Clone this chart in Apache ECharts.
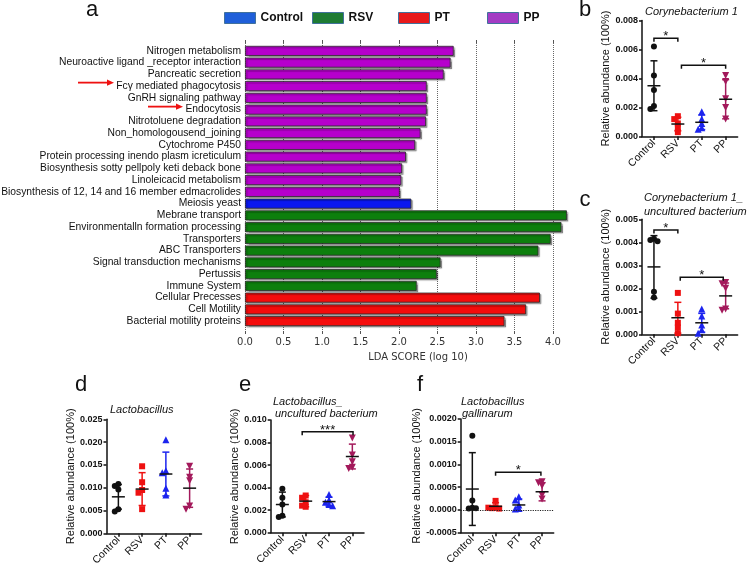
<!DOCTYPE html>
<html>
<head>
<meta charset="utf-8">
<script src="https://cdn.jsdelivr.net/npm/echarts@6/dist/echarts.min.js"></script>
<style>html,body{margin:0;padding:0;background:#fff}#c{width:750px;height:569px}</style>
</head>
<body>
<div id="c"></div>
<script>
// ---------------- DATA ----------------
const groups = ['Control', 'RSV', 'PT', 'PP'];

const ldaPathways = [
  'Nitrogen metabolism',
  'Neuroactive ligand _receptor interaction',
  'Pancreatic secretion',
  'Fcγ mediated phagocytosis',
  'GnRH signaling pathway',
  'Endocytosis',
  'Nitrotoluene degradation',
  'Non_homologousend_joining',
  'Cytochrome P450',
  'Protein processing inendo plasm icreticulum',
  'Biosynthesis sotty pellpoly keti deback bone',
  'Linoleicacid metabolism',
  'Biosynthesis of 12, 14 and 16 member edmacrolides',
  'Meiosis yeast',
  'Mebrane transport',
  'Environmentalln formation processing',
  'Transporters',
  'ABC Transporters',
  'Signal transduction mechanisms',
  'Pertussis',
  'Immune System',
  'Cellular Precesses',
  'Cell Motility',
  'Bacterial motility proteins'
];
const ldaGroups = ['PP','PP','PP','PP','PP','PP','PP','PP','PP','PP','PP','PP','PP',
  'Control','RSV','RSV','RSV','RSV','RSV','RSV','RSV','PT','PT','PT'];
const ldaScores = [2.71, 2.67, 2.58, 2.36, 2.36, 2.36, 2.35, 2.28, 2.21, 2.09, 2.04, 2.03, 2.01,
  2.16, 4.18, 4.11, 3.97, 3.81, 2.54, 2.49, 2.23, 3.83, 3.65, 3.37];

// b: Corynebacterium 1
const bPoints = [
  [0.0062, 0.0042, 0.0032, 0.0021, 0.0019],
  [0.0014, 0.0012, 0.0009, 0.0006, 0.0003],
  [0.0017, 0.0012, 0.0009, 0.0006, 0.0005],
  [0.0042, 0.0038, 0.0026, 0.0020, 0.0012]
];
const bMean = [0.0035, 0.00086, 0.00098, 0.00257];
const bSD = [0.00172, 0.00047, 0.00050, 0.00135];
const bBrackets = [[0, 1, 0.00677, '*'], [1.15, 3, 0.00491, '*']];

// c: Corynebacterium 1_uncultured bacterium
const cPoints = [
  [0.00415, 0.0041, 0.00405, 0.00185, 0.0016],
  [0.0018, 0.0009, 0.0005, 0.0003, 0.00005],
  [0.0011, 0.0008, 0.0004, 0.0002, 0.00005],
  [0.00225, 0.0022, 0.0020, 0.0011, 0.00105]
];
const cMean = [0.00293, 0.00072, 0.0005, 0.00167];
const cSD = [0.00136, 0.00067, 0.00041, 0.00056];
const cBrackets = [[0, 1, 0.00453, '*'], [1.1, 2.9, 0.00248, '*']];

// d: Lactobacillus
const dPoints = [
  [0.0108, 0.0104, 0.0096, 0.0053, 0.0048],
  [0.0147, 0.0112, 0.0095, 0.0089, 0.0053],
  [0.0205, 0.0137, 0.0133, 0.0099, 0.0084],
  [0.0147, 0.0123, 0.0115, 0.0060, 0.0053]
];
const dMean = [0.0080, 0.0097, 0.0130, 0.0099];
const dSD = [0.0027, 0.0036, 0.0048, 0.0042];
const dBrackets = [];

// e: Lactobacillus_uncultured bacterium
const ePoints = [
  [0.0039, 0.0031, 0.0025, 0.0015, 0.0014],
  [0.0033, 0.0031, 0.0027, 0.0024, 0.0023],
  [0.0034, 0.0029, 0.0027, 0.0025, 0.0024],
  [0.0084, 0.0069, 0.0063, 0.0058, 0.0057]
];
const eMean = [0.0025, 0.0028, 0.00276, 0.00676];
const eSD = [0.0011, 0.0005, 0.0004, 0.0011];
const eBrackets = [[0.85, 3.03, 0.00896, '***']];

// f: Lactobacillus gallinarum
const fPoints = [
  [0.00163, 0.00021, 0.00005, 0.00003, 0.00004],
  [0.0002, 0.00006, 0.00004, 0.00003, 0.00005],
  [0.00029, 0.00022, 0.00011, 0.00003, 0.00002],
  [0.00062, 0.0006, 0.00053, 0.00033, 0.00024]
];
const fMean = [0.00046, 0.00008, 0.00011, 0.0004];
const fSD = [0.0008, 0.00008, 0.00013, 0.0002];
const fBrackets = [[1, 2.95, 0.00083, '*']];

// ---------------- STYLE / LAYOUT ----------------
const FONT = '"Liberation Sans", Arial, Helvetica, sans-serif';
const barColors = ['#0a18f0', '#0d7f0d', '#f40c0c', '#b600cc'];
const legendColors = ['#1f5fd9', '#1e7b34', '#e8191b', '#a33cc4'];
const legendLefts = [224, 312, 398, 487];
const groupColors = ['#111111', '#ee1111', '#1c24ee', '#a3195b'];
const groupSymbols = ['circle', 'rect', 'triangle', 'triangle'];
const groupRotate = [0, 0, 0, 180];

const panels = [
  {pts: bPoints, mean: bMean, sd: bSD, br: bBrackets, left: 642, top: 20.5, width: 95.6, height: 116, min: 0, max: 0.008, interval: 0.002, dec: 3, nameGap: 27},
  {pts: cPoints, mean: cMean, sd: cSD, br: cBrackets, left: 642, top: 219.3, width: 95.6, height: 115, min: 0, max: 0.005, interval: 0.001, dec: 3, nameGap: 27},
  {pts: dPoints, mean: dMean, sd: dSD, br: dBrackets, left: 106.5, top: 419.3, width: 95, height: 114, min: 0, max: 0.025, interval: 0.005, dec: 3, nameGap: 26},
  {pts: ePoints, mean: eMean, sd: eSD, br: eBrackets, left: 270.7, top: 420, width: 93.3, height: 112.7, min: 0, max: 0.010, interval: 0.002, dec: 3, nameGap: 26},
  {pts: fPoints, mean: fMean, sd: fSD, br: fBrackets, left: 460.7, top: 419, width: 93, height: 113.7, min: -0.0005, max: 0.0020, interval: 0.0005, dec: 4, nameGap: 35, zeroLine: true}
];

// beeswarm-like horizontal spreading (GraphPad style), in category units
function swarm(vals, pxPerUnit, spacingPx, size) {
  const placed = [];
  const step = size * 0.6;
  return vals.map(v => {
    const cands = [0, -1, 1, -2, 2, -3, 3];
    for (const k of cands) {
      const oPx = k * step;
      const ok = placed.every(p => Math.hypot((p.v - v) * pxPerUnit, p.o - oPx) >= size * 0.6);
      if (ok) { placed.push({v: v, o: oPx}); return oPx / spacingPx; }
    }
    return 0;
  });
}

const grids = [], xAxes = [], yAxes = [], series = [];

// panel a: bars grid
grids.push({left: 245, top: 45, width: 327.25, height: 282, containLabel: false, outerBoundsMode: 'none'});
xAxes.push({gridIndex: 0, type: 'value', min: 0, max: 4.25, show: false, axisLine: {onZero: false}});
yAxes.push({gridIndex: 0, type: 'category', inverse: true, data: ldaPathways,
  axisLine: {show: false, onZero: false}, axisTick: {show: false},
  axisLabel: {interval: 0, fontSize: 10.3, color: '#111', margin: 4, fontFamily: FONT}});
// panel a: gridline / tick grid
grids.push({left: 245, top: 43, width: 308, height: 288, containLabel: false, outerBoundsMode: 'none'});
xAxes.push({gridIndex: 1, type: 'value', position: 'bottom', min: 0, max: 4, interval: 0.5,
  axisLine: {show: false, onZero: false}, axisTick: {show: true, length: 3, lineStyle: {color: '#555'}},
  axisLabel: {formatter: v => v.toFixed(1), fontSize: 10, fontFamily: '"DejaVu Sans", sans-serif', color: '#333', margin: 6},
  splitLine: {show: true, lineStyle: {type: 'dotted', color: '#666', width: 1}}});
xAxes.push({gridIndex: 1, type: 'value', position: 'top', min: 0, max: 4, interval: 0.5,
  axisLine: {show: false, onZero: false}, axisTick: {show: true, length: 3, lineStyle: {color: '#555'}},
  axisLabel: {show: false}, splitLine: {show: false}});
yAxes.push({gridIndex: 1, type: 'value', min: 0, max: 1, show: false, axisLine: {onZero: false}});

groups.forEach((g, gi) => {
  series.push({
    type: 'bar', name: g, xAxisIndex: 0, yAxisIndex: 0, stack: 'lda', barWidth: 10,
    data: ldaScores.map((v, i) => ldaGroups[i] === g ? v : '-'),
    itemStyle: {color: barColors[gi], borderColor: '#2a2a2a', borderWidth: 0.8,
      shadowColor: 'rgba(0,0,0,0.35)', shadowOffsetX: 1.5, shadowOffsetY: 1.5, shadowBlur: 1},
    silent: true
  });
});

panels.forEach((p, pi) => {
  const gi = grids.length;
  grids.push({left: p.left, top: p.top, width: p.width, height: p.height, containLabel: false, outerBoundsMode: 'none'});
  const xc = xAxes.length;
  xAxes.push({gridIndex: gi, type: 'category', data: groups, boundaryGap: true,
    axisLine: {show: true, onZero: false, lineStyle: {color: '#111', width: 1.5}},
    axisTick: {show: true, alignWithLabel: true, length: 3.5, lineStyle: {color: '#111', width: 1.5}},
    axisLabel: {interval: 0, rotate: 45, fontSize: 10.5, color: '#111', margin: 5, fontFamily: FONT},
    splitLine: {show: false}});
  const xv = xAxes.length;
  xAxes.push({gridIndex: gi, type: 'value', min: -0.5, max: 3.5, show: false, axisLine: {onZero: false}});
  const yi = yAxes.length;
  yAxes.push({gridIndex: gi, type: 'value', min: p.min, max: p.max, interval: p.interval,
    name: 'Relative abundance (100%)', nameLocation: 'middle', nameGap: p.nameGap, nameRotate: 90,
    nameTextStyle: {fontSize: 11, color: '#111', fontFamily: FONT},
    axisLine: {show: true, onZero: false, lineStyle: {color: '#111', width: 1.5}},
    axisTick: {show: true, length: 3, lineStyle: {color: '#111', width: 1.5}},
    axisLabel: {formatter: v => v.toFixed(p.dec), fontSize: 9, fontWeight: 'bold', color: '#111', margin: 4, fontFamily: FONT},
    splitLine: {show: false}});

  const pxPerUnit = p.height / (p.max - p.min);
  const spacing = p.width / 4;
  groups.forEach((g, k) => {
    const vals = p.pts[k];
    const offs = swarm(vals, pxPerUnit, spacing, 6);
    const s = {
      type: 'scatter', name: 'p' + pi + '-' + g, xAxisIndex: xv, yAxisIndex: yi,
      data: vals.map((v, j) => [k + offs[j], v]),
      symbol: groupSymbols[k], symbolSize: k >= 2 ? 7 : 6, symbolRotate: groupRotate[k],
      itemStyle: {color: groupColors[k], opacity: 1}, silent: true, z: 3
    };
    if (p.zeroLine && k === 0) {
      s.markLine = {silent: true, symbol: 'none', label: {show: false},
        lineStyle: {type: 'dotted', color: '#222', width: 1.2}, data: [{yAxis: 0}]};
    }
    series.push(s);
  });

  // mean +/- SD
  series.push({
    type: 'custom', xAxisIndex: xv, yAxisIndex: yi, silent: true, z: 4, clip: false,
    data: p.mean.map((m, i) => [i, m, p.sd[i]]),
    renderItem: (params, api) => {
      const i = api.value(0), m = api.value(1), s = api.value(2);
      const c = api.coord([i, m]), t = api.coord([i, m + s]), b = api.coord([i, m - s]);
      const col = groupColors[i];
      const st = {stroke: col, lineWidth: 1.5};
      return {type: 'group', children: [
        {type: 'line', shape: {x1: c[0], y1: t[1], x2: c[0], y2: b[1]}, style: st},
        {type: 'line', shape: {x1: c[0] - 3.5, y1: t[1], x2: c[0] + 3.5, y2: t[1]}, style: st},
        {type: 'line', shape: {x1: c[0] - 3.5, y1: b[1], x2: c[0] + 3.5, y2: b[1]}, style: st},
        {type: 'line', shape: {x1: c[0] - 6.5, y1: c[1], x2: c[0] + 6.5, y2: c[1]}, style: {stroke: '#111', lineWidth: 1.5}}
      ]};
    }
  });

  // significance brackets
  if (p.br.length) {
    const br = p.br;
    series.push({
      type: 'custom', xAxisIndex: xv, yAxisIndex: yi, silent: true, z: 5, clip: false,
      data: br.map(b => [b[0], b[2], b[1]]),
      renderItem: (params, api) => {
        const x1 = api.value(0), y = api.value(1), x2 = api.value(2);
        const p1 = api.coord([x1, y]), p2 = api.coord([x2, y]);
        const lbl = br[params.dataIndex][3];
        return {type: 'group', children: [
          {type: 'polyline', shape: {points: [[p1[0], p1[1] + 3.5], [p1[0], p1[1]], [p2[0], p2[1]], [p2[0], p2[1] + 3.5]]},
            style: {stroke: '#111', lineWidth: 1.5, fill: null}},
          {type: 'text', style: {text: lbl, x: (p1[0] + p2[0]) / 2, y: p1[1] - 1.5,
            textAlign: 'center', textVerticalAlign: 'middle', font: '13px ' + FONT, fill: '#111'}}
        ]};
      }
    });
  }
});

const chart = echarts.init(document.getElementById('c'), null, {renderer: 'canvas', width: 750, height: 569});
chart.setOption({
  animation: false,
  backgroundColor: '#ffffff',
  grid: grids, xAxis: xAxes, yAxis: yAxes, series: series,
  legend: groups.map((g, i) => ({
    left: legendLefts[i], top: 12, padding: 0, itemWidth: 31, itemHeight: 11, icon: 'rect',
    selectedMode: false, itemGap: 0,
    data: [{name: g, itemStyle: {color: legendColors[i], borderColor: '#41719c', borderWidth: 1}}],
    textStyle: {fontSize: 12, fontWeight: 'bold', color: '#111', fontFamily: FONT}
  }))
});

// annotations (text & arrows)
function txt(text, x, y, size, opts) {
  return Object.assign({type: 'text', x: x, y: y, silent: true,
    style: Object.assign({text: text, font: size + 'px ' + FONT, fill: '#111', textAlign: 'left', textVerticalAlign: 'middle'}, opts || {})});
}
const it = {font: 'italic 11px ' + FONT};
const els = [
  txt('a', 92, 9.5, 22, {textAlign: 'center'}),
  txt('b', 585, 9.5, 22, {textAlign: 'center'}),
  txt('c', 585, 199.5, 22, {textAlign: 'center'}),
  txt('d', 81, 384.5, 22, {textAlign: 'center'}),
  txt('e', 245, 384.5, 22, {textAlign: 'center'}),
  txt('f', 420, 384.5, 22, {textAlign: 'center'}),
  txt('Corynebacterium 1', 645, 11.5, 11, it),
  txt('Corynebacterium 1_', 644, 198, 11, it),
  txt('uncultured bacterium', 644, 211.5, 11, it),
  txt('Lactobacillus', 110, 410, 11, it),
  txt('Lactobacillus_', 273, 402, 11, it),
  txt('uncultured bacterium', 275, 414, 11, it),
  txt('Lactobacillus', 461, 402, 11, it),
  txt('gallinarum', 462, 414, 11, it),
  txt('LDA SCORE (log 10)', 418, 357, 10, {textAlign: 'center', font: '10px "DejaVu Sans", sans-serif', fill: '#333'})
];
function arrow(x1, x2, y) {
  return {type: 'group', silent: true, children: [
    {type: 'line', shape: {x1: x1, y1: y, x2: x2 - 6, y2: y}, style: {stroke: '#ee1111', lineWidth: 1.8}},
    {type: 'polygon', shape: {points: [[x2, y], [x2 - 7, y - 3.2], [x2 - 7, y + 3.2]]}, style: {fill: '#ee1111'}}
  ]};
}
const yFc = chart.convertToPixel({yAxisIndex: 0}, 'Fcγ mediated phagocytosis');
const yEn = chart.convertToPixel({yAxisIndex: 0}, 'Endocytosis');
els.push(arrow(78, 114, yFc - 3.5));
els.push(arrow(148, 183, yEn - 3));
chart.setOption({graphic: {elements: els}});
</script>
</body>
</html>
